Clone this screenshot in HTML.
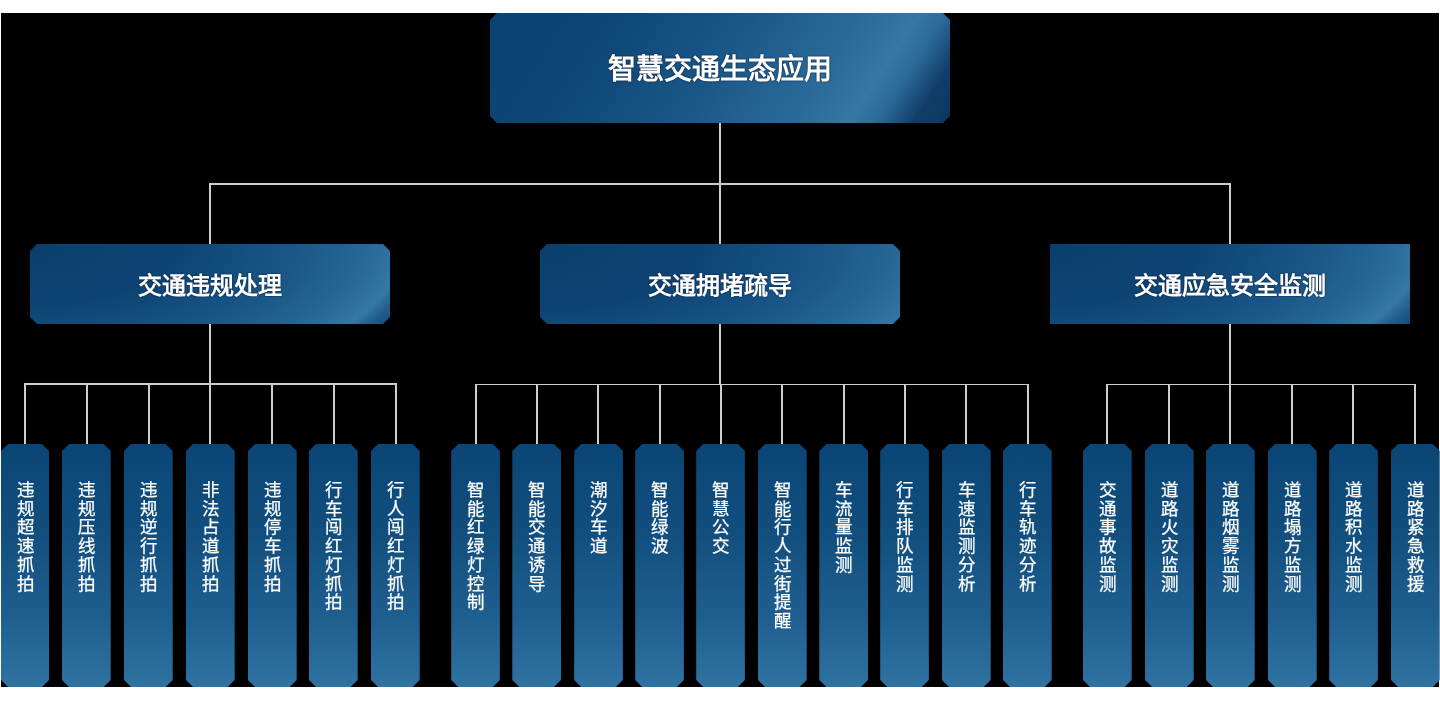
<!DOCTYPE html>
<html lang="zh-CN"><head><meta charset="utf-8">
<style>
html,body{margin:0;padding:0;background:#fff;width:1440px;height:710px;overflow:hidden}
body{font-family:"Liberation Sans",sans-serif;position:relative}
#bg{position:absolute;left:1px;top:13px;width:1438px;height:674px;background:#000}
.ln{position:absolute;background:#cecece}
.top{position:absolute;left:490px;top:13px;width:460px;height:110px;clip-path:polygon(7px 0,calc(100% - 7px) 0,100% 7px,100% calc(100% - 7px),calc(100% - 7px) 100%,7px 100%,0 calc(100% - 7px),0 7px);
 background:linear-gradient(123deg,#0a4373 0%,#0e4777 25%,#1a5889 50%,#2a6a9a 70%,#3677a4 81%,#2c6a99 86%,#113e69 93%,#0b3660 100%);
 color:#fff;font-size:28px;font-weight:bold;padding-bottom:2px;box-sizing:border-box;display:flex;align-items:center;justify-content:center}
.mid{position:absolute;top:244px;width:360px;height:80px;
 color:#fff;font-size:24px;font-weight:bold;padding-bottom:2px;box-sizing:border-box;display:flex;align-items:center;justify-content:center}
.m1{background:radial-gradient(373px 155px at 0 0,#0a3f6d 0%,#0e4473 40%,#145082 60%,#1c5a8a 75%,#276899 90%,#3577a5 100%,#1f5a88 105%,#0f4470 112%)}
.m2{background:radial-gradient(400px 166px at 0 0,#0a3f6d 0%,#0e4473 40%,#145082 60%,#1c5a8a 75%,#276899 90%,#3577a5 102%)}
.bx{position:absolute;top:444px;height:243px;
 clip-path:polygon(7px 0,calc(100% - 7px) 0,100% 7px,100% calc(100% - 7px),calc(100% - 7px) 100%,7px 100%,0 calc(100% - 7px),0 7px);
 background:linear-gradient(180deg,#0a4575 0%,#114e7e 35%,#1f5f8f 72%,#2f73a3 100%);
 color:#fff;font-size:17.5px;line-height:18.7px;-webkit-text-stroke:0.25px #fff;text-align:center}
.bx span{position:absolute;left:0;right:0;top:37px;will-change:transform}
.tx{will-change:transform;text-shadow:0 0 1.2px rgba(0,20,45,0.9),0 0 2px rgba(0,20,45,0.5)}
.ch{clip-path:polygon(7px 0,calc(100% - 7px) 0,100% 7px,100% calc(100% - 7px),calc(100% - 7px) 100%,7px 100%,0 calc(100% - 7px),0 7px);}
</style></head><body>
<div id="bg"></div>
<div class="ln" style="left:719px;top:123px;width:2px;height:61px"></div><div class="ln" style="left:209px;top:183px;width:1022px;height:2px"></div><div class="ln" style="left:209px;top:184px;width:2px;height:60px"></div><div class="ln" style="left:719px;top:184px;width:2px;height:60px"></div><div class="ln" style="left:1229px;top:184px;width:2px;height:60px"></div><div class="ln" style="left:209px;top:324px;width:2px;height:60px"></div><div class="ln" style="left:719px;top:324px;width:2px;height:60px"></div><div class="ln" style="left:1229px;top:324px;width:2px;height:60px"></div><div class="ln" style="left:24px;top:383px;width:373px;height:2px"></div><div class="ln" style="left:24px;top:384px;width:2px;height:60px"></div><div class="ln" style="left:86px;top:384px;width:2px;height:60px"></div><div class="ln" style="left:148px;top:384px;width:2px;height:60px"></div><div class="ln" style="left:209px;top:384px;width:2px;height:60px"></div><div class="ln" style="left:271px;top:384px;width:2px;height:60px"></div><div class="ln" style="left:333px;top:384px;width:2px;height:60px"></div><div class="ln" style="left:395px;top:384px;width:2px;height:60px"></div><div class="ln" style="left:475px;top:384px;width:553.5px;height:1px"></div><div class="ln" style="left:475px;top:384px;width:2px;height:60px"></div><div class="ln" style="left:536px;top:384px;width:2px;height:60px"></div><div class="ln" style="left:597px;top:384px;width:2px;height:60px"></div><div class="ln" style="left:659px;top:384px;width:2px;height:60px"></div><div class="ln" style="left:720px;top:384px;width:2px;height:60px"></div><div class="ln" style="left:781px;top:384px;width:2px;height:60px"></div><div class="ln" style="left:843px;top:384px;width:2px;height:60px"></div><div class="ln" style="left:904px;top:384px;width:2px;height:60px"></div><div class="ln" style="left:965px;top:384px;width:2px;height:60px"></div><div class="ln" style="left:1026.5px;top:384px;width:2px;height:60px"></div><div class="ln" style="left:1106px;top:384px;width:310px;height:1px"></div><div class="ln" style="left:1106px;top:384px;width:2px;height:60px"></div><div class="ln" style="left:1168px;top:384px;width:2px;height:60px"></div><div class="ln" style="left:1229px;top:384px;width:2px;height:60px"></div><div class="ln" style="left:1291px;top:384px;width:2px;height:60px"></div><div class="ln" style="left:1352px;top:384px;width:2px;height:60px"></div><div class="ln" style="left:1414px;top:384px;width:2px;height:60px"></div>
<div class="top"><span class="tx">智慧交通生态应用</span></div>
<div class="mid m1 ch" style="left:30px"><span class="tx">交通违规处理</span></div>
<div class="mid m2 ch" style="left:540px"><span class="tx">交通拥堵疏导</span></div>
<div class="mid m1" style="left:1050px"><span class="tx">交通应急安全监测</span></div>
<div class="bx" style="left:1px;width:48px"><span>违<br>规<br>超<br>速<br>抓<br>拍</span></div><div class="bx" style="left:62px;width:48.7px"><span>违<br>规<br>压<br>线<br>抓<br>拍</span></div><div class="bx" style="left:124px;width:48.7px"><span>违<br>规<br>逆<br>行<br>抓<br>拍</span></div><div class="bx" style="left:186px;width:48.7px"><span>非<br>法<br>占<br>道<br>抓<br>拍</span></div><div class="bx" style="left:248px;width:48.7px"><span>违<br>规<br>停<br>车<br>抓<br>拍</span></div><div class="bx" style="left:309px;width:48.7px"><span>行<br>车<br>闯<br>红<br>灯<br>抓<br>拍</span></div><div class="bx" style="left:371px;width:48.7px"><span>行<br>人<br>闯<br>红<br>灯<br>抓<br>拍</span></div><div class="bx" style="left:451.2px;width:48.7px"><span>智<br>能<br>红<br>绿<br>灯<br>控<br>制</span></div><div class="bx" style="left:512.3px;width:48.7px"><span>智<br>能<br>交<br>通<br>诱<br>导</span></div><div class="bx" style="left:574.2px;width:48.7px"><span>潮<br>汐<br>车<br>道</span></div><div class="bx" style="left:635.2px;width:48.7px"><span>智<br>能<br>绿<br>波</span></div><div class="bx" style="left:696.2px;width:48.7px"><span>智<br>慧<br>公<br>交</span></div><div class="bx" style="left:758px;width:48.7px"><span>智<br>能<br>行<br>人<br>过<br>街<br>提<br>醒</span></div><div class="bx" style="left:819.3px;width:48.7px"><span>车<br>流<br>量<br>监<br>测</span></div><div class="bx" style="left:880.2px;width:48.7px"><span>行<br>车<br>排<br>队<br>监<br>测</span></div><div class="bx" style="left:942px;width:48.7px"><span>车<br>速<br>监<br>测<br>分<br>析</span></div><div class="bx" style="left:1003px;width:48.7px"><span>行<br>车<br>轨<br>迹<br>分<br>析</span></div><div class="bx" style="left:1083px;width:48.7px"><span>交<br>通<br>事<br>故<br>监<br>测</span></div><div class="bx" style="left:1145px;width:48.7px"><span>道<br>路<br>火<br>灾<br>监<br>测</span></div><div class="bx" style="left:1206px;width:48.7px"><span>道<br>路<br>烟<br>雾<br>监<br>测</span></div><div class="bx" style="left:1268px;width:48.7px"><span>道<br>路<br>塌<br>方<br>监<br>测</span></div><div class="bx" style="left:1329.2px;width:48.7px"><span>道<br>路<br>积<br>水<br>监<br>测</span></div><div class="bx" style="left:1391px;width:48.7px"><span>道<br>路<br>紧<br>急<br>救<br>援</span></div>
</body></html>
